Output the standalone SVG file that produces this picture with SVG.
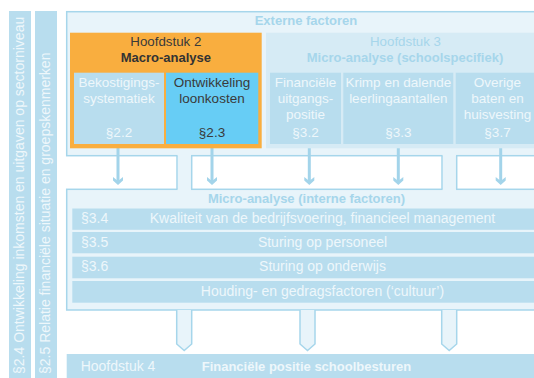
<svg xmlns="http://www.w3.org/2000/svg" width="534" height="378" viewBox="0 0 534 378">
<defs>
<style>
text{font-family:"Liberation Sans",Arial,sans-serif}
.frame{fill:#E8F4FA;stroke:#A6D6EB;stroke-width:1.5}
.cell{fill:#B8DDEE}
.wt{fill:#EEF7FB;font-size:13.5px;text-anchor:middle}
.dk{fill:#3A3A3A}
.rt{fill:#EEF7FB;font-size:14px}
.hd{fill:#A6D6EB;font-size:13px;font-weight:bold;text-anchor:middle}
.stem{fill:#E8F4FA;stroke:#A6D6EB;stroke-width:1.5}
.arr{fill:#A3D4EA}
</style>
<g id="arrowShape">
<rect x="-1.5" y="0" width="3" height="37"/>
<path d="M-5,33 L0,37 L5,33 L5,36.5 L0,41 L-5,36.5 Z"/>
</g>
</defs>

<g id="side-2-4">
<rect x="9" y="11" width="22" height="370" fill="#B8DDEE"/>
<text class="rt" transform="translate(23.5,374) rotate(-90)">§2.4 Ontwikkeling inkomsten en uitgaven op sectorniveau</text>
</g>
<g id="side-2-5">
<rect x="35" y="11" width="22" height="370" fill="#B8DDEE"/>
<text class="rt" transform="translate(50,374) rotate(-90)">§2.5 Relatie financiële situatie en groepskenmerken</text>
</g>

<g id="externe-factoren">
<rect class="frame" x="66.7" y="11.7" width="480" height="144"/>
<text class="hd" x="306" y="24.5">Externe factoren</text>
</g>

<g id="micro-intern">
<rect class="frame" x="66.7" y="189.3" width="480" height="120.7"/>
<text class="hd" x="306.5" y="203">Micro-analyse (interne factoren)</text>
</g>

<g id="connectors">
<rect x="177.5" y="154" width="13.5" height="37" fill="#E8F4FA"/>
<rect x="442.5" y="154" width="13.5" height="37" fill="#E8F4FA"/>
<path d="M177,155.7 V189.3 M191.7,155.7 V189.3 M442,155.7 V189.3 M456.7,155.7 V189.3" stroke="#A6D6EB" stroke-width="1.5" fill="none"/>
<path class="stem" d="M176.7,310 V344 L184.2,350.5 L191.7,344 V310"/>
<path class="stem" d="M300,310 V344 L307.5,350.5 L315,344 V310"/>
<path class="stem" d="M441.7,310 V344 L449.2,350.5 L456.7,344 V310"/>
<g class="arr">
<use href="#arrowShape" transform="translate(118,144)"/>
<use href="#arrowShape" transform="translate(212,144)"/>
<use href="#arrowShape" transform="translate(309.3,144)"/>
<use href="#arrowShape" transform="translate(398.3,144)"/>
<use href="#arrowShape" transform="translate(500.7,144)"/>
</g>
</g>

<g id="hoofdstuk2">
<rect x="70" y="32.7" width="191.7" height="115.6" fill="#F9AE3F"/>
<text x="165.8" y="46" font-size="13.3" fill="#3A3A3A" text-anchor="middle">Hoofdstuk 2</text>
<text x="165.8" y="61.7" font-size="13" font-weight="bold" fill="#333333" text-anchor="middle">Macro-analyse</text>
</g>
<g id="bekostiging">
<rect class="cell" x="74" y="72.7" width="90" height="71.3"/>
<text class="wt" x="119" y="87.3">Bekostigings-</text>
<text class="wt" x="119" y="103.3">systematiek</text>
<text class="wt" x="119" y="136.7">§2.2</text>
</g>
<g id="loonkosten">
<rect x="166" y="72.7" width="92.3" height="71.3" fill="#67CDF5"/>
<text class="wt dk" x="212" y="87.3">Ontwikkeling</text>
<text class="wt dk" x="212" y="103.3">loonkosten</text>
<text class="wt dk" x="212" y="136.7">§2.3</text>
</g>

<g id="hoofdstuk3">
<rect x="266" y="32.7" width="280" height="115.6" fill="#D6EBF5"/>
<text class="hd" x="405.5" y="46" style="font-weight:normal;font-size:13.3px">Hoofdstuk 3</text>
<text class="hd" x="405" y="61.7">Micro-analyse (schoolspecifiek)</text>
</g>
<g id="financiele-uitgangspositie">
<rect class="cell" x="270" y="72.7" width="71" height="71.3"/>
<text class="wt" x="305.5" y="87.3">Financiële</text>
<text class="wt" x="305.5" y="103.3">uitgangs-</text>
<text class="wt" x="305.5" y="119.3">positie</text>
<text class="wt" x="305.5" y="136.7">§3.2</text>
</g>
<g id="krimp">
<rect class="cell" x="343.3" y="72.7" width="110" height="71.3"/>
<text class="wt" x="398.3" y="87.3">Krimp en dalende</text>
<text class="wt" x="398.3" y="103.3">leerlingaantallen</text>
<text class="wt" x="398.3" y="136.7">§3.3</text>
</g>
<g id="overige-baten">
<rect class="cell" x="455.7" y="72.7" width="90" height="71.3"/>
<text class="wt" x="497.5" y="87.3">Overige</text>
<text class="wt" x="497.5" y="103.3">baten en</text>
<text class="wt" x="497.5" y="119.3">huisvesting</text>
<text class="wt" x="497.5" y="136.7">§3.7</text>
</g>

<g id="row-3-4">
<rect class="cell" x="72.3" y="208.5" width="470" height="21.3"/>
<text class="rt" x="81" y="222.5">§3.4</text>
<text class="rt" x="322.5" y="222.5" text-anchor="middle">Kwaliteit van de bedrijfsvoering, financieel management</text>
</g>
<g id="row-3-5">
<rect class="cell" x="72.3" y="232" width="470" height="21.3"/>
<text class="rt" x="81" y="246.5">§3.5</text>
<text class="rt" x="322.5" y="246.5" text-anchor="middle">Sturing op personeel</text>
</g>
<g id="row-3-6">
<rect class="cell" x="72.3" y="256.7" width="470" height="21.6"/>
<text class="rt" x="81" y="270.8">§3.6</text>
<text class="rt" x="322.5" y="270.8" text-anchor="middle">Sturing op onderwijs</text>
</g>
<g id="row-cultuur">
<rect class="cell" x="72.3" y="281" width="470" height="21.7"/>
<text class="rt" x="322.5" y="295.7" text-anchor="middle">Houding- en gedragsfactoren (‘cultuur’)</text>
</g>

<g id="hoofdstuk4">
<rect class="cell" x="66.7" y="354" width="480" height="30"/>
<text class="rt" x="80.7" y="370.7">Hoofdstuk 4</text>
<text class="rt" x="201.7" y="370.7" style="font-size:13px;font-weight:bold">Financiële positie schoolbesturen</text>
</g>
</svg>
